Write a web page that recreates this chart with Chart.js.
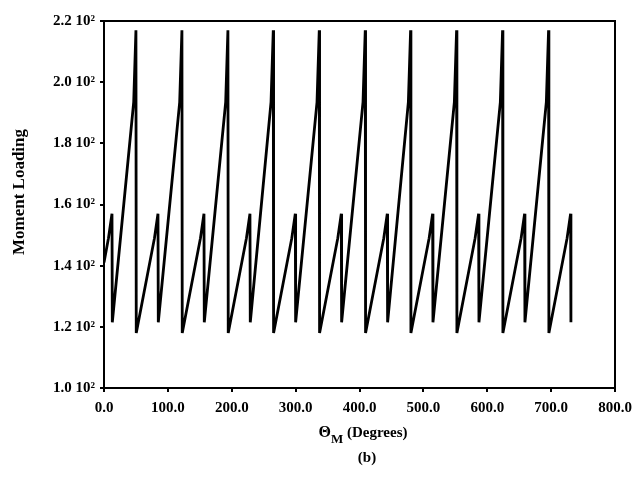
<!DOCTYPE html>
<html>
<head>
<meta charset="utf-8">
<script src="https://cdn.jsdelivr.net/npm/chart.js@4"></script>
<style>
  html, body { margin: 0; padding: 0; background: #fff; }
</style>
</head>
<body>
<canvas id="momentChart" width="632" height="477"></canvas>
<script>
/* Moment loading vs. theta_M */
const thetaM = [
  0, 7, 12.5, 13, 46.5, 50,
  50.5, 79, 84.5, 85, 118.5, 122,
  122.5, 151, 156.5, 157, 190.5, 194,
  194.5, 223, 228.5, 229, 261.5, 265,
  265.5, 294, 299.5, 300, 333.5, 337,
  337.5, 366, 371.5, 372, 405.5, 409,
  409.5, 438, 443.5, 444, 476.5, 480,
  480.5, 509, 514.5, 515, 548.5, 552,
  552.5, 581, 586.5, 587, 620.5, 624,
  624.5, 653, 658.5, 659, 692.5, 696,
  696.5, 725, 730.5, 731
];
const moment = [
  141, 149, 157, 121.5, 193.5, 217,
  118, 149, 157, 121.5, 193.5, 217,
  118, 149, 157, 121.5, 193.5, 217,
  118, 149, 157, 121.5, 193.5, 217,
  118, 149, 157, 121.5, 193.5, 217,
  118, 149, 157, 121.5, 193.5, 217,
  118, 149, 157, 121.5, 193.5, 217,
  118, 149, 157, 121.5, 193.5, 217,
  118, 149, 157, 121.5, 193.5, 217,
  118, 149, 157, 121.5, 193.5, 217,
  118, 149, 157, 121.5
];
const xTicks = [0, 100, 200, 300, 400, 500, 600, 700, 800];
const yTicks = [100, 120, 140, 160, 180, 200, 220];

const font = { family: '"Liberation Serif", serif', size: 15, weight: 'bold' };

// box round the plot + the titles (x title needs a subscript)
const frame = {
  id: 'frame',
  afterDraw(chart) {
    const { ctx, chartArea: a } = chart;
    ctx.save();
    ctx.strokeStyle = '#000';
    ctx.lineWidth = 2;
    ctx.strokeRect(a.left, a.top, a.right - a.left, a.bottom - a.top);

    ctx.fillStyle = '#000';
    ctx.textBaseline = 'alphabetic';
    const big = 'bold 16px "Liberation Serif", serif';
    const sub = 'bold 13px "Liberation Serif", serif';
    const rest = 'bold 15px "Liberation Serif", serif';
    ctx.font = big; const w1 = ctx.measureText('Θ').width;
    ctx.font = sub; const w2 = ctx.measureText('M').width;
    ctx.font = rest; const w3 = ctx.measureText(' (Degrees)').width;
    let x = 363 - (w1 + w2 + w3) / 2;
    ctx.textAlign = 'left';
    ctx.font = big; ctx.fillText('Θ', x, 437); x += w1;
    ctx.font = sub; ctx.fillText('M', x, 443); x += w2;
    ctx.font = rest; ctx.fillText(' (Degrees)', x, 437);

    ctx.textAlign = 'center';
    ctx.textBaseline = 'middle';
    ctx.fillText('(b)', 367, 458);

    ctx.font = 'bold 17px "Liberation Serif", serif';
    ctx.translate(20, 192);
    ctx.rotate(-Math.PI / 2);
    ctx.fillText('Moment Loading', 0, 0);
    ctx.restore();
  }
};

new Chart(document.getElementById('momentChart'), {
  type: 'line',
  data: {
    datasets: [{
      data: thetaM.map((t, i) => ({ x: t, y: moment[i] })),
      borderColor: '#000',
      borderWidth: 2.8,
      pointRadius: 0,
      tension: 0,
      fill: false
    }]
  },
  options: {
    responsive: false,
    animation: false,
    layout: { padding: { top: 21, right: 17, left: 0, bottom: 0 } },
    plugins: { legend: { display: false }, tooltip: { enabled: false } },
    scales: {
      x: {
        type: 'linear', min: 0, max: 800,
        afterBuildTicks: s => { s.ticks = xTicks.map(v => ({ value: v })); },
        afterFit: s => { s.height = 89; s.paddingLeft = 0; s.paddingRight = 0; },
        grid: { display: true, drawOnChartArea: false, color: '#000', lineWidth: 2, tickLength: 4 },
        border: { display: true, color: '#000', width: 2 },
        ticks: { color: '#000', font, padding: 7, maxRotation: 0, autoSkip: false,
                 callback: v => v.toFixed(1) }
      },
      y: {
        min: 100, max: 220,
        afterBuildTicks: s => { s.ticks = yTicks.map(v => ({ value: v })); },
        afterFit: s => { s.width = 104; },
        grid: { display: true, drawOnChartArea: false, color: '#000', lineWidth: 2, tickLength: 4 },
        border: { display: true, color: '#000', width: 2 },
        ticks: { color: '#000', font, padding: 5, autoSkip: false,
                 callback: v => (v / 100).toFixed(1) + ' 10²' }
      }
    }
  },
  plugins: [frame]
});
</script>
</body>
</html>
